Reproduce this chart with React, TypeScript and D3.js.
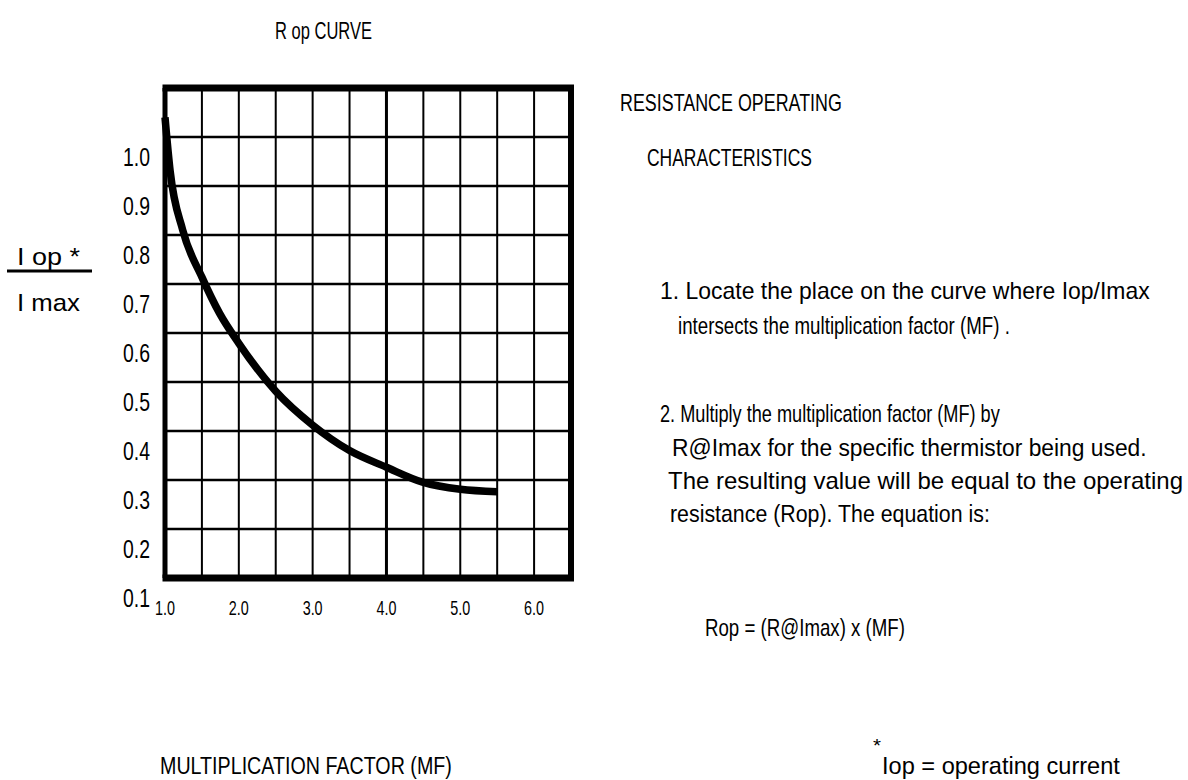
import React, { useEffect, useRef } from 'react';
import * as d3 from 'd3';

// Rop curve: multiplication factor vs Iop/Imax
const mfValues = [1.0, 1.07, 1.24, 1.5, 1.74, 2.0, 2.5, 3.0, 3.5, 4.0, 4.5, 5.0, 5.5];
const ratioValues = [1.04, 0.93, 0.81, 0.714, 0.64, 0.579, 0.481, 0.412, 0.36, 0.326, 0.295, 0.281, 0.276];

const xTickValues = [1.0, 2.0, 3.0, 4.0, 5.0, 6.0];
const yTickValues = [1.0, 0.9, 0.8, 0.7, 0.6, 0.5, 0.4, 0.3, 0.2, 0.1];
const xGridValues = [1.5, 2.0, 2.5, 3.0, 3.5, 4.0, 4.5, 5.0, 5.5, 6.0];
const yGridValues = [0.2, 0.3, 0.4, 0.5, 0.6, 0.7, 0.8, 0.9, 1.0];

const titleText = 'R op  CURVE';
const yTitleTop = 'I  op *';
const yTitleBottom = 'I  max';
const xAxisTitle = 'MULTIPLICATION  FACTOR  (MF)';
const headingLines = ['RESISTANCE  OPERATING', 'CHARACTERISTICS'];
const step1Lines = ['1.  Locate the place on the curve where Iop/Imax', 'intersects the multiplication factor (MF) .'];
const step2Lines = [
  '2.  Multiply the multiplication factor (MF) by',
  'R@Imax for the specific thermistor being used.',
  'The resulting value will be equal to the operating',
  'resistance (Rop). The equation is:',
];
const equationText = 'Rop = (R@Imax) x (MF)';
const footnoteText = 'Iop = operating current';

const FONT = '"Liberation Sans", Arial, sans-serif';

export default function App() {
  const svgRef = useRef<SVGSVGElement | null>(null);

  useEffect(() => {
    if (!svgRef.current) return;
    const svg = d3.select(svgRef.current);
    svg.selectAll('*').remove();

    const frame = { left: 165, right: 571, top: 88, bottom: 578 };

    const x = d3.scaleLinear().domain([1.0, 6.5]).range([frame.left, frame.right]);
    const y = d3.scaleLinear().domain([0.1, 1.1]).range([frame.bottom, frame.top]);

    svg.append('rect').attr('width', 1188).attr('height', 780).attr('fill', '#fff');
    const g = svg.append('g');

    // text squeezed horizontally to the width it takes in the picture
    const label = (s: string, tx: number, ty: number, width: number, size: number, anchor = 'start') => {
      const t = g.append('text')
        .attr('font-family', FONT)
        .attr('font-size', size)
        .attr('fill', '#000')
        .text(s);
      const natural = (t.node() as SVGTextElement).getComputedTextLength() || width;
      const sx = width / natural;
      const shift = anchor === 'end' ? -width : anchor === 'middle' ? -width / 2 : 0;
      t.attr('transform', `translate(${tx + shift},${ty}) scale(${sx},1)`);
      return t;
    };

    // grid
    g.selectAll('line.vgrid')
      .data(xGridValues)
      .enter()
      .append('line')
      .attr('x1', d => x(d))
      .attr('x2', d => x(d))
      .attr('y1', frame.top)
      .attr('y2', frame.bottom)
      .attr('stroke', '#000')
      .attr('stroke-width', d => (d === 4.0 ? 3 : 2));

    g.selectAll('line.hgrid')
      .data(yGridValues)
      .enter()
      .append('line')
      .attr('x1', frame.left)
      .attr('x2', frame.right)
      .attr('y1', d => y(d))
      .attr('y2', d => y(d))
      .attr('stroke', '#000')
      .attr('stroke-width', 2.5);

    // heavy frame
    g.append('line').attr('x1', frame.left - 2.5).attr('x2', frame.right + 3)
      .attr('y1', frame.top).attr('y2', frame.top).attr('stroke', '#000').attr('stroke-width', 7);
    g.append('line').attr('x1', frame.left - 2.5).attr('x2', frame.right + 3)
      .attr('y1', frame.bottom).attr('y2', frame.bottom).attr('stroke', '#000').attr('stroke-width', 7);
    g.append('line').attr('x1', frame.left).attr('x2', frame.left)
      .attr('y1', frame.top).attr('y2', frame.bottom).attr('stroke', '#000').attr('stroke-width', 5);
    g.append('line').attr('x1', frame.right).attr('x2', frame.right)
      .attr('y1', frame.top).attr('y2', frame.bottom).attr('stroke', '#000').attr('stroke-width', 6);

    // curve
    const pts = mfValues.map((m, i) => [m, ratioValues[i]] as [number, number]);
    const line = d3.line<[number, number]>()
      .x(d => x(d[0]))
      .y(d => y(d[1]))
      .curve(d3.curveMonotoneX);
    g.append('path')
      .datum(pts)
      .attr('fill', 'none')
      .attr('stroke', '#000')
      .attr('stroke-width', 7.5)
      .attr('d', line);

    // tick labels (the picture sets them about half a row under their grid line)
    yTickValues.forEach(v => label(v.toFixed(1), 150, y(v) + 29, 27, 25, 'end'));
    xTickValues.forEach(v => label(v.toFixed(1), x(v), frame.bottom + 37, 20, 20, 'middle'));

    // titles and notes
    label(titleText, 275, 39, 97, 24);
    label(yTitleTop, 17, 265, 63, 24);
    g.append('line').attr('x1', 7).attr('x2', 92).attr('y1', 271).attr('y2', 271)
      .attr('stroke', '#000').attr('stroke-width', 3);
    label(yTitleBottom, 17, 311, 63, 24);
    label(xAxisTitle, 160, 774, 292, 24);

    label(headingLines[0], 620, 111, 222, 24);
    label(headingLines[1], 647, 166, 165, 24);
    label(step1Lines[0], 660, 299, 490, 24);
    label(step1Lines[1], 678, 334, 332, 24);
    label(step2Lines[0], 660, 422, 340, 24);
    label(step2Lines[1], 672, 456, 475, 24);
    label(step2Lines[2], 668, 489, 515, 24);
    label(step2Lines[3], 670, 522, 320, 24);
    label(equationText, 705, 636, 200, 24);
    label('*', 873, 752, 8, 18);
    label(footnoteText, 882, 774, 238, 24);
  }, []);

  return (
    <div style={{ position: 'absolute', left: 0, top: 0 }}>
      <svg ref={svgRef} width={1188} height={780} style={{ display: 'block' }} />
    </div>
  );
}
